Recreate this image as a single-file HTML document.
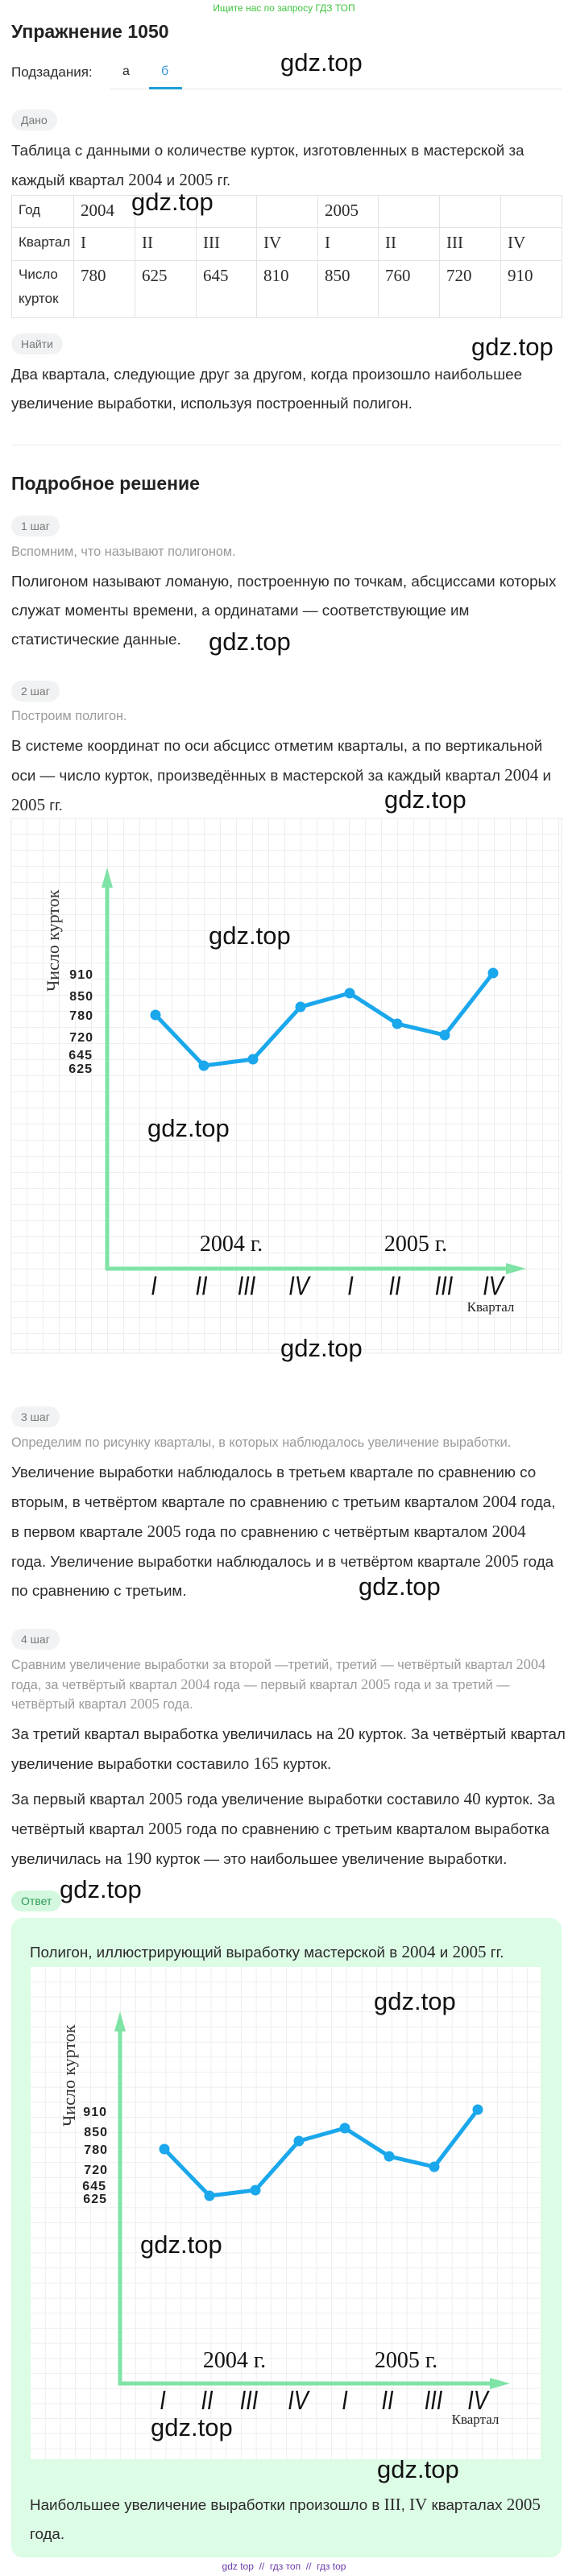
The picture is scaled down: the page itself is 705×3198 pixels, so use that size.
<!DOCTYPE html>
<html><head><meta charset="utf-8">
<style>
*{margin:0;padding:0;box-sizing:border-box}
body{width:705px;height:3198px;position:relative;background:#fff;font-family:"Liberation Sans",sans-serif;color:#2b2b2b;overflow:hidden}
.a{position:absolute;white-space:nowrap}
.t{font-size:18.8px;line-height:36px;left:14px}
.g{font-size:16.3px;color:#9a9a9a;left:14px}
.m{font-family:"Liberation Serif",serif;font-size:1.12em}
.pill{position:absolute;background:#f1f2f3;color:#777;font-size:14px;border-radius:13px;height:26px;line-height:26px;padding:0 12px;left:14px}
.wm{position:absolute;font-size:31px;color:#111;white-space:nowrap;line-height:1}
table{position:absolute;left:14px;top:242px;width:683px;border-collapse:collapse;font-size:17px;table-layout:fixed}
td{border:1px solid #e2e2e2;vertical-align:top;padding:8px 8px;height:40px}
td.s{font-family:"Liberation Serif",serif;font-size:21px;padding-top:6px}
</style></head><body>
<div class="a" style="left:0;width:705px;text-align:center;top:3px;font-size:12px;color:#3ec43e">Ищите нас по запросу ГДЗ ТОП</div>
<div class="a" style="left:14px;top:26px;font-size:23px;font-weight:bold;color:#222">Упражнение 1050</div>
<div class="a" style="left:14px;top:80px;font-size:17px">Подзадания:</div>
<div class="a" style="left:152px;top:80px;font-size:16px">а</div>
<div class="a" style="left:200px;top:80px;font-size:16px;color:#3a9ad9">б</div>
<div class="a" style="left:136px;top:110px;width:561px;height:1px;background:#e6e6e6"></div>
<div class="a" style="left:185px;top:108px;width:41px;height:3px;background:#1e9fd8"></div>
<div class="pill" style="top:136px">Дано</div>
<div class="a t" style="top:169px">Таблица с данными о количестве курток, изготовленных в мастерской за<br>каждый квартал <span class="m">2004</span> и <span class="m">2005</span> гг.</div>
<table>
<colgroup><col style="width:77px"><col style="width:76px"><col style="width:76px"><col style="width:75px"><col style="width:76px"><col style="width:75px"><col style="width:76px"><col style="width:76px"><col style="width:76px"></colgroup>
<tr><td style="height:40px">Год</td><td class="s">2004</td><td></td><td></td><td></td><td class="s">2005</td><td></td><td></td><td></td></tr>
<tr><td style="height:41px">Квартал</td><td class="s">I</td><td class="s">II</td><td class="s">III</td><td class="s">IV</td><td class="s">I</td><td class="s">II</td><td class="s">III</td><td class="s">IV</td></tr>
<tr><td style="height:65px;line-height:30px;padding-top:2px">Число<br>курток</td><td class="s">780</td><td class="s">625</td><td class="s">645</td><td class="s">810</td><td class="s">850</td><td class="s">760</td><td class="s">720</td><td class="s">910</td></tr>
</table>
<div class="pill" style="top:414px">Найти</div>
<div class="a t" style="top:447px">Два квартала, следующие друг за другом, когда произошло наибольшее<br>увеличение выработки, используя построенный полигон.</div>
<div class="a" style="left:14px;top:552px;width:683px;height:1px;background:#ececec"></div>

<div class="a" style="left:14px;top:587px;font-size:23px;font-weight:bold;color:#222">Подробное решение</div>
<div class="pill" style="top:640px">1 шаг</div>
<div class="a g" style="top:676px">Вспомним, что называют полигоном.</div>
<div class="a t" style="top:704px">Полигоном называют ломаную, построенную по точкам, абсциссами которых<br>служат моменты времени, а ординатами — соответствующие им<br>статистические данные.</div>
<div class="pill" style="top:845px">2 шаг</div>
<div class="a g" style="top:880px">Построим полигон.</div>
<div class="a t" style="top:908px">В системе координат по оси абсцисс отметим кварталы, а по вертикальной<br>оси — число курток, произведённых в мастерской за каждый квартал <span class="m">2004</span> и<br><span class="m">2005</span> гг.</div>

<div class="a" style="left:14px;top:2381px;width:683px;height:794px;background:#dcfce6;border-radius:14px"></div>

<svg class="a" style="left:0;top:0" width="705" height="3198" xmlns="http://www.w3.org/2000/svg">
<defs>
<pattern id="p1" x="14" y="1016" width="20" height="20" patternUnits="userSpaceOnUse"><path d="M20 0V20M0 20H20" stroke="#e9e9e9" stroke-width="1.5" fill="none"/></pattern>
<pattern id="p2" x="38" y="2442" width="18.7" height="18.7" patternUnits="userSpaceOnUse"><path d="M18.7 0V18.7M0 18.7H18.7" stroke="#e9e9e9" stroke-width="1.5" fill="none"/></pattern>
</defs>
<rect x="14" y="1016" width="683" height="664" fill="#fff" stroke="#e9e9e9"/>
<rect x="14" y="1016" width="683" height="664" fill="url(#p1)"/>
<line x1="133" y1="1095" x2="133" y2="1577" stroke="#7fe3a6" stroke-width="5"/>
<polygon points="133,1077 126,1102 140,1102" fill="#7fe3a6"/>
<line x1="131" y1="1575" x2="635" y2="1575" stroke="#7fe3a6" stroke-width="5"/>
<polygon points="653,1575 628,1568 628,1582" fill="#7fe3a6"/>
<polyline points="193,1260 253,1323 314,1315 373,1250 434,1233 493,1271 552,1285 612,1208" fill="none" stroke="#1aa7ec" stroke-width="5" stroke-linejoin="round"/>
<g fill="#1aa7ec"><circle cx="193" cy="1260" r="6.5"/><circle cx="253" cy="1323" r="6.5"/><circle cx="314" cy="1315" r="6.5"/><circle cx="373" cy="1250" r="6.5"/><circle cx="434" cy="1233" r="6.5"/><circle cx="493" cy="1271" r="6.5"/><circle cx="552" cy="1285" r="6.5"/><circle cx="612" cy="1208" r="6.5"/></g>
<g font-family="Liberation Sans,sans-serif" font-size="16" font-weight="bold" fill="#222" text-anchor="end" letter-spacing="1">
<text x="116" y="1215">910</text><text x="116" y="1242">850</text><text x="116" y="1266">780</text><text x="116" y="1293">720</text><text x="115" y="1315">645</text><text x="115" y="1332">625</text></g>
<text transform="translate(73,1231) rotate(-90)" font-family="Liberation Serif,serif" font-size="22" fill="#333">Число курток</text>
<g font-family="Liberation Serif,serif" font-size="28" fill="#111" text-anchor="middle"><text x="287" y="1553">2004 г.</text><text x="516" y="1553">2005 г.</text></g>
<g font-family="Liberation Sans,sans-serif" font-size="27" font-style="italic" fill="#111" text-anchor="middle" transform="scale(1,1.25)">
<text x="191" y="1286">I</text><text x="250" y="1286">II</text><text x="306" y="1286">III</text><text x="371" y="1286">IV</text><text x="435" y="1286">I</text><text x="490" y="1286">II</text><text x="551" y="1286">III</text><text x="612" y="1286">IV</text></g>
<text x="609" y="1628" font-family="Liberation Serif,serif" font-size="17" fill="#222" text-anchor="middle">Квартал</text>

<rect x="38" y="2442" width="633" height="611" fill="#fff"/>
<rect x="38" y="2442" width="633" height="611" fill="url(#p2)"/>
<line x1="149" y1="2515" x2="149" y2="2961" stroke="#7fe3a6" stroke-width="5"/>
<polygon points="149,2497 142,2522 156,2522" fill="#7fe3a6"/>
<line x1="147" y1="2959" x2="615" y2="2959" stroke="#7fe3a6" stroke-width="5"/>
<polygon points="633,2959 608,2952 608,2966" fill="#7fe3a6"/>
<polyline points="204,2668 260,2726 317,2719 371,2658 428,2642 483,2677 539,2690 593,2619" fill="none" stroke="#1aa7ec" stroke-width="5" stroke-linejoin="round"/>
<g fill="#1aa7ec"><circle cx="204" cy="2668" r="6.5"/><circle cx="260" cy="2726" r="6.5"/><circle cx="317" cy="2719" r="6.5"/><circle cx="371" cy="2658" r="6.5"/><circle cx="428" cy="2642" r="6.5"/><circle cx="483" cy="2677" r="6.5"/><circle cx="539" cy="2690" r="6.5"/><circle cx="593" cy="2619" r="6.5"/></g>
<g font-family="Liberation Sans,sans-serif" font-size="16" font-weight="bold" fill="#222" text-anchor="end" letter-spacing="1">
<text x="133" y="2627">910</text><text x="134" y="2652">850</text><text x="134" y="2674">780</text><text x="134" y="2699">720</text><text x="132" y="2719">645</text><text x="133" y="2735">625</text></g>
<text transform="translate(93,2640) rotate(-90)" font-family="Liberation Serif,serif" font-size="22" fill="#333">Число курток</text>
<g font-family="Liberation Serif,serif" font-size="28" fill="#111" text-anchor="middle"><text x="291" y="2939">2004 г.</text><text x="504" y="2939">2005 г.</text></g>
<g font-family="Liberation Sans,sans-serif" font-size="27" font-style="italic" fill="#111" text-anchor="middle" transform="scale(1,1.25)">
<text x="202" y="2393">I</text><text x="257" y="2393">II</text><text x="309" y="2393">III</text><text x="370" y="2393">IV</text><text x="428" y="2393">I</text><text x="481" y="2393">II</text><text x="538" y="2393">III</text><text x="593" y="2393">IV</text></g>
<text x="590" y="3009" font-family="Liberation Serif,serif" font-size="17" fill="#222" text-anchor="middle">Квартал</text>
</svg>

<div class="pill" style="top:1746px">3 шаг</div>
<div class="a g" style="top:1782px">Определим по рисунку кварталы, в которых наблюдалось увеличение выработки.</div>
<div class="a t" style="top:1810px">Увеличение выработки наблюдалось в третьем квартале по сравнению со<br>вторым, в четвёртом квартале по сравнению с третьим кварталом <span class="m">2004</span> года,<br>в первом квартале <span class="m">2005</span> года по сравнению с четвёртым кварталом <span class="m">2004</span><br>года. Увеличение выработки наблюдалось и в четвёртом квартале <span class="m">2005</span> года<br>по сравнению с третьим.</div>
<div class="pill" style="top:2022px">4 шаг</div>
<div class="a g" style="top:2055px;line-height:23.5px">Сравним увеличение выработки за второй —третий, третий — четвёртый квартал <span class="m">2004</span><br>года, за четвёртый квартал <span class="m">2004</span> года — первый квартал <span class="m">2005</span> года и за третий —<br>четвёртый квартал <span class="m">2005</span> года.</div>
<div class="a t" style="top:2134px">За третий квартал выработка увеличилась на <span class="m">20</span> курток. За четвёртый квартал<br>увеличение выработки составило <span class="m">165</span> курток.</div>
<div class="a t" style="top:2215px">За первый квартал <span class="m">2005</span> года увеличение выработки составило <span class="m">40</span> курток. За<br>четвёртый квартал <span class="m">2005</span> года по сравнению с третьим кварталом выработка<br>увеличилась на <span class="m">190</span> курток — это наибольшее увеличение выработки.</div>
<div class="pill" style="top:2347px;background:#d3f8df;color:#2f9a55">Ответ</div>
<div class="a" style="left:37px;top:2411px;font-size:18.8px">Полигон, иллюстрирующий выработку мастерской в <span class="m">2004</span> и <span class="m">2005</span> гг.</div>
<div class="a t" style="left:37px;top:3091px">Наибольшее увеличение выработки произошло в <span class="m">III</span>, <span class="m">IV</span> кварталах <span class="m">2005</span><br>года.</div>
<div class="a" style="left:0;width:705px;text-align:center;top:3179px;font-size:12px;color:#6a3aa8">gdz top &nbsp;//&nbsp; гдз топ &nbsp;//&nbsp; гдз top</div>

<div class="wm" style="left:348px;top:62px">gdz.top</div>
<div class="wm" style="left:163px;top:235px">gdz.top</div>
<div class="wm" style="left:585px;top:415px">gdz.top</div>
<div class="wm" style="left:259px;top:781px">gdz.top</div>
<div class="wm" style="left:477px;top:977px">gdz.top</div>
<div class="wm" style="left:259px;top:1146px">gdz.top</div>
<div class="wm" style="left:183px;top:1385px">gdz.top</div>
<div class="wm" style="left:348px;top:1658px">gdz.top</div>
<div class="wm" style="left:445px;top:1954px">gdz.top</div>
<div class="wm" style="left:74px;top:2330px">gdz.top</div>
<div class="wm" style="left:464px;top:2469px">gdz.top</div>
<div class="wm" style="left:174px;top:2771px">gdz.top</div>
<div class="wm" style="left:187px;top:2998px">gdz.top</div>
<div class="wm" style="left:468px;top:3050px">gdz.top</div>
</body></html>
